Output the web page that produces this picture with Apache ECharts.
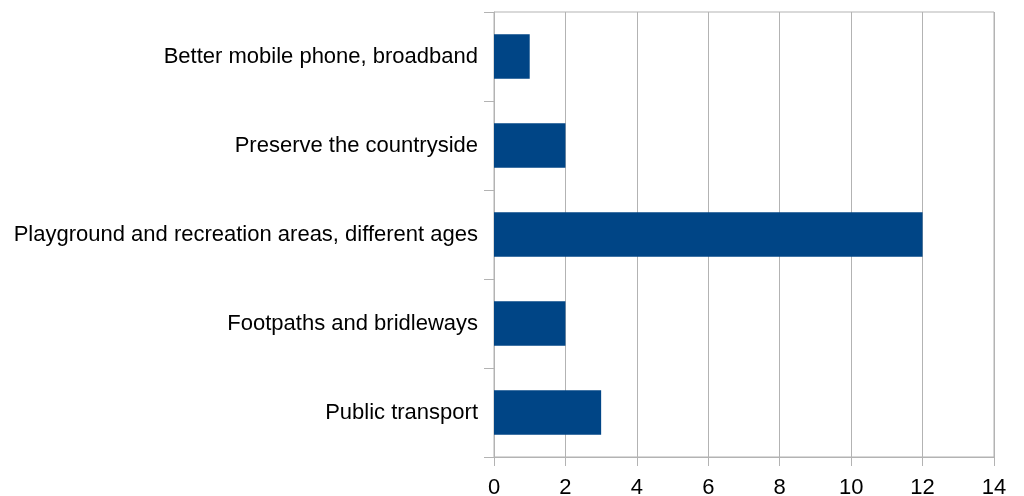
<!DOCTYPE html>
<html>
<head>
<meta charset="utf-8">
<script src="https://cdn.jsdelivr.net/npm/echarts@6/dist/echarts.min.js"></script>
<style>
  html, body { margin: 0; padding: 0; background: #fff; }
  #chart { width: 1024px; height: 496px; }
</style>
</head>
<body>
<div id="chart"></div>
<script>
// categories top to bottom
const categories = [
  'Better mobile phone, broadband',
  'Preserve the countryside',
  'Playground and recreation areas, different ages',
  'Footpaths and bridleways',
  'Public transport'
]
const values = [1, 2, 12, 2, 3]
const xTicks = { min: 0, max: 14, interval: 2 }

const gray = '#b3b3b3'
const font = 'Liberation Sans, Arial, sans-serif'

const chart = echarts.init(document.getElementById('chart'))
chart.setOption({
  animation: false,
  grid: {
    left: 494, right: 30, top: 12, bottom: 39,
    outerBoundsMode: 'none',
    show: true, borderColor: gray, borderWidth: 1, backgroundColor: 'transparent'
  },
  xAxis: {
    type: 'value',
    min: xTicks.min, max: xTicks.max, interval: xTicks.interval,
    axisLine: { show: true, lineStyle: { color: gray } },
    axisTick: { show: true, length: 9, lineStyle: { color: gray } },
    splitLine: { show: true, lineStyle: { color: gray } },
    axisLabel: { color: '#000', fontSize: 22, fontFamily: font, margin: 20 }
  },
  yAxis: {
    type: 'category',
    inverse: true,
    data: categories,
    axisLine: { show: true, lineStyle: { color: gray } },
    axisTick: { show: true, length: 10, lineStyle: { color: gray } },
    axisLabel: { color: '#000', fontSize: 22, fontFamily: font, margin: 16 }
  },
  series: [{
    type: 'bar',
    data: values,
    barCategoryGap: '50%',
    itemStyle: { color: '#004586' }
  }]
})
</script>
</body>
</html>
